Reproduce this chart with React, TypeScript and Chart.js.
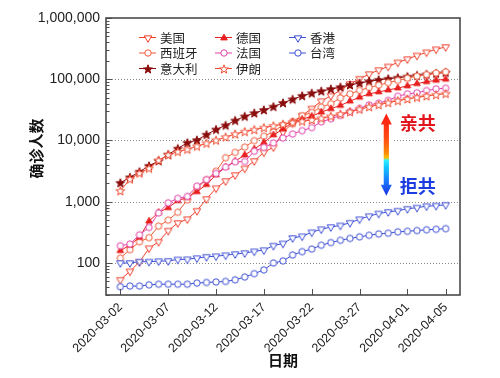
import React, { useEffect, useRef } from "react";
import { Chart, registerables } from "chart.js";

Chart.register(...registerables);

const dates = [
  "2020-03-02", "2020-03-03", "2020-03-04", "2020-03-05", "2020-03-06", "2020-03-07", "2020-03-08",
  "2020-03-09", "2020-03-10", "2020-03-11", "2020-03-12", "2020-03-13", "2020-03-14", "2020-03-15",
  "2020-03-16", "2020-03-17", "2020-03-18", "2020-03-19", "2020-03-20", "2020-03-21", "2020-03-22",
  "2020-03-23", "2020-03-24", "2020-03-25", "2020-03-26", "2020-03-27", "2020-03-28", "2020-03-29",
  "2020-03-30", "2020-03-31", "2020-04-01", "2020-04-02", "2020-04-03", "2020-04-04", "2020-04-05",
];
const xTickIdx = [0, 5, 10, 15, 20, 25, 30, 34];
const yTicks = [100, 1000, 10000, 100000, 1000000];

const us = [53, 73, 104, 174, 222, 337, 451, 519, 711, 1109, 1663, 2179, 2727, 3499, 4632, 6421, 7786, 13680, 19101, 25493, 33276, 43847, 53740, 65778, 83836, 101657, 121465, 140909, 161831, 188172, 213242, 243622, 275367, 308650, 336802];
const spain = [120, 165, 222, 259, 400, 500, 673, 1073, 1695, 2277, 3146, 5232, 6391, 7798, 9942, 11748, 13910, 17963, 20410, 25374, 28768, 35136, 39885, 49515, 57786, 65719, 73235, 80110, 87956, 95923, 104118, 112065, 119199, 126168, 131646];
const italy = [2036, 2502, 3089, 3858, 4636, 5883, 7375, 9172, 10149, 12462, 15113, 17660, 21157, 24747, 27980, 31506, 35713, 41035, 47021, 53578, 59138, 63927, 69176, 74386, 80589, 86498, 92472, 97689, 101739, 105792, 110574, 115242, 119827, 124632, 128948];
const germany = [159, 196, 262, 482, 670, 799, 1040, 1176, 1457, 1908, 2745, 3675, 4585, 5795, 7272, 9257, 12327, 15320, 19848, 22213, 24873, 29056, 32986, 37323, 43938, 50871, 57695, 62095, 66885, 71808, 77872, 84794, 91159, 96092, 100123];
const france = [191, 204, 288, 380, 656, 959, 1136, 1219, 1794, 2293, 2896, 3681, 4496, 4532, 6683, 7715, 9124, 10970, 12758, 14463, 16243, 20123, 22622, 25600, 29551, 33402, 38105, 40708, 45170, 52827, 57749, 59929, 65202, 69500, 71412];
const iran = [1501, 2336, 2922, 3513, 4747, 5823, 6566, 7161, 8042, 9000, 10075, 11364, 12729, 13938, 14991, 16169, 17361, 18407, 19644, 20610, 21638, 23049, 24811, 27017, 29406, 32332, 35408, 38309, 41495, 44605, 47593, 50468, 53183, 55743, 58226];
const hongkong = [100, 100, 105, 105, 107, 108, 114, 115, 120, 126, 129, 134, 140, 145, 155, 162, 192, 208, 256, 273, 317, 356, 386, 410, 453, 518, 582, 641, 682, 714, 765, 802, 845, 862, 890];
const taiwan = [41, 42, 42, 44, 45, 45, 45, 45, 47, 48, 49, 50, 53, 59, 67, 77, 100, 108, 135, 153, 169, 195, 215, 235, 252, 267, 283, 298, 306, 322, 329, 339, 348, 355, 363];

type Marker = "triDown" | "triUp" | "circle" | "star";
interface SeriesDef { name: string; data: number[]; color: string; marker: Marker; filled: boolean; col: number; row: number; }

const series: SeriesDef[] = [
  { name: "香港", data: hongkong, color: "#3d4fd4", marker: "triDown", filled: false, col: 2, row: 0 },
  { name: "台湾", data: taiwan, color: "#3d4fd4", marker: "circle", filled: false, col: 2, row: 1 },
  { name: "伊朗", data: iran, color: "#f04a30", marker: "star", filled: false, col: 1, row: 2 },
  { name: "法国", data: france, color: "#e040a8", marker: "circle", filled: false, col: 1, row: 1 },
  { name: "德国", data: germany, color: "#e82020", marker: "triUp", filled: true, col: 1, row: 0 },
  { name: "西班牙", data: spain, color: "#f05a38", marker: "circle", filled: false, col: 0, row: 1 },
  { name: "意大利", data: italy, color: "#8a0c0c", marker: "star", filled: true, col: 0, row: 2 },
  { name: "美国", data: us, color: "#f0402c", marker: "triDown", filled: false, col: 0, row: 0 },
];

const FONT = "'Liberation Sans', 'Noto Sans CJK SC', sans-serif";
const CJK = "'Noto Sans CJK SC', sans-serif";

function drawMarkerPath(ctx: CanvasRenderingContext2D, m: Marker, c: number) {
  ctx.beginPath();
  if (m === "triDown") {
    const r = 4.3;
    ctx.moveTo(c, c + r);
    ctx.lineTo(c - r * 0.866, c - r / 2);
    ctx.lineTo(c + r * 0.866, c - r / 2);
    ctx.closePath();
  } else if (m === "triUp") {
    const r = 3.8;
    ctx.moveTo(c, c - r);
    ctx.lineTo(c - r * 0.866, c + r / 2);
    ctx.lineTo(c + r * 0.866, c + r / 2);
    ctx.closePath();
  } else if (m === "circle") {
    ctx.arc(c, c, 3.2, 0, Math.PI * 2);
  } else {
    const R = 4.6, r = 1.9;
    for (let i = 0; i < 10; i++) {
      const a = -Math.PI / 2 + (i * Math.PI) / 5;
      const rr = i % 2 === 0 ? R : r;
      const px = c + rr * Math.cos(a), py = c + 0.4 + rr * Math.sin(a);
      if (i === 0) ctx.moveTo(px, py); else ctx.lineTo(px, py);
    }
    ctx.closePath();
  }
}

function makeMarker(m: Marker, color: string, filled: boolean): HTMLCanvasElement {
  const S = 12;
  const cv = document.createElement("canvas");
  cv.width = S; cv.height = S;
  const ctx = cv.getContext("2d")!;
  drawMarkerPath(ctx, m, S / 2);
  ctx.fillStyle = filled ? color : "#ffffff";
  ctx.fill();
  ctx.lineWidth = 1;
  ctx.strokeStyle = color;
  ctx.stroke();
  return cv;
}

export default function App() {
  const ref = useRef<HTMLCanvasElement>(null);
  useEffect(() => {
    if (!ref.current) return;
    const markers = series.map((s) => makeMarker(s.marker, s.color, s.filled));

    const custom = {
      id: "custom",
      beforeDatasetsDraw(chart: any) {
        const { ctx, chartArea: a, scales } = chart;
        const y = scales.y;
        ctx.save();
        ctx.strokeStyle = "#8a8a8a";
        ctx.lineWidth = 1;
        ctx.setLineDash([1, 2]);
        for (const v of yTicks) {
          if (v >= 1000000) continue;
          const py = Math.round(y.getPixelForValue(v)) + 0.5;
          ctx.beginPath();
          ctx.moveTo(a.left, py);
          ctx.lineTo(a.right, py);
          ctx.stroke();
        }
        ctx.restore();
      },
      afterDatasetsDraw(chart: any) {
        const { ctx, chartArea: a, scales } = chart;
        const x = scales.x, y = scales.y;
        ctx.save();
        ctx.strokeStyle = "#505050";
        ctx.lineWidth = 1;
        for (let e = 1; e <= 6; e++) {
          for (let k = 1; k <= 9; k++) {
            const v = k * Math.pow(10, e);
            if (v < y.min || v > y.max) continue;
            const py = Math.round(y.getPixelForValue(v)) + 0.5;
            const len = k === 1 ? 6 : 3.5;
            ctx.beginPath();
            ctx.moveTo(a.left, py);
            ctx.lineTo(a.left + len, py);
            ctx.stroke();
          }
        }
        for (const v of xTickIdx) {
          const px = Math.round(x.getPixelForValue(v)) + 0.5;
          ctx.beginPath();
          ctx.moveTo(px, a.bottom);
          ctx.lineTo(px, a.bottom - 6);
          ctx.stroke();
        }
        ctx.lineWidth = 1.6;
        ctx.strokeStyle = "#4a4a4a";
        ctx.strokeRect(a.left, a.top, a.right - a.left, a.bottom - a.top);
        ctx.restore();
      },
      afterDraw(chart: any) {
        const { ctx, chartArea: a, scales } = chart;
        const x = scales.x, y = scales.y;
        ctx.save();
        // y axis title
        ctx.save();
        ctx.translate(36, (a.top + a.bottom) / 2 - 8);
        ctx.rotate(-Math.PI / 2);
        ctx.font = `bold 15px ${CJK}`;
        ctx.fillStyle = "#111111";
        ctx.textAlign = "center";
        ctx.textBaseline = "middle";
        ctx.fillText("确诊人数", 0, 0);
        ctx.restore();

        // arrow annotation
        const cx = x.getPixelForValue(27.8);
        const yt = y.getPixelForValue(27500);
        const yb = y.getPixelForValue(1250);
        ctx.fillStyle = "#ffffff";
        ctx.fillRect(cx - 7, yt - 1, 14, yb - yt + 2);
        const g = ctx.createLinearGradient(0, yt, 0, yb);
        g.addColorStop(0, "#ff1a14");
        g.addColorStop(0.3, "#ff4a14");
        g.addColorStop(0.48, "#ff8a08");
        g.addColorStop(0.54, "#ffc000");
        g.addColorStop(0.565, "#30f0ff");
        g.addColorStop(0.65, "#10c8ff");
        g.addColorStop(0.82, "#1a78ff");
        g.addColorStop(1, "#1a30e0");
        const hw = 5.5, sw = 2.6, hh = 11;
        ctx.beginPath();
        ctx.moveTo(cx, yt);
        ctx.lineTo(cx + hw, yt + hh);
        ctx.lineTo(cx + sw, yt + hh);
        ctx.lineTo(cx + sw, yb - hh);
        ctx.lineTo(cx + hw, yb - hh);
        ctx.lineTo(cx, yb);
        ctx.lineTo(cx - hw, yb - hh);
        ctx.lineTo(cx - sw, yb - hh);
        ctx.lineTo(cx - sw, yt + hh);
        ctx.lineTo(cx - hw, yt + hh);
        ctx.closePath();
        ctx.fillStyle = g;
        ctx.fill();

        ctx.font = `bold 18px ${CJK}`;
        ctx.textAlign = "left";
        ctx.textBaseline = "middle";
        ctx.fillStyle = "#e3141c";
        ctx.fillText("亲共", x.getPixelForValue(29.2), y.getPixelForValue(19000));
        ctx.fillStyle = "#1a3ce0";
        ctx.fillText("拒共", x.getPixelForValue(29.2), y.getPixelForValue(1830));

        // legend
        const colX = [a.left + 33, a.left + 109, a.left + 183];
        const rowY = [a.top + 19, a.top + 34.5, a.top + 50];
        ctx.font = `12.5px ${CJK}`;
        series.forEach((s, i) => {
          const x0 = colX[s.col];
          const ly = rowY[s.row];
          ctx.strokeStyle = s.color;
          ctx.lineWidth = 1;
          ctx.beginPath();
          ctx.moveTo(x0, ly + 0.5);
          ctx.lineTo(x0 + 17, ly + 0.5);
          ctx.stroke();
          const mk = markers[i];
          ctx.drawImage(mk, Math.round(x0 + 8.5 - mk.width / 2), Math.round(ly + 0.5 - mk.height / 2));
          ctx.fillStyle = "#222222";
          ctx.fillText(s.name, x0 + 21, ly + 1);
        });
        ctx.restore();
      },
    };

    const chart = new Chart(ref.current, {
      type: "line",
      data: {
        datasets: series.map((s, i) => ({
          label: s.name,
          data: s.data.map((v, k) => ({ x: k, y: v })),
          borderColor: s.color,
          borderWidth: 1,
          pointStyle: markers[i],
          pointRadius: 4,
          fill: false,
          tension: 0,
        })),
      },
      options: {
        animation: false,
        responsive: false,
        maintainAspectRatio: false,
        layout: { padding: { top: 18, right: 40, left: 0, bottom: 0 } },
        plugins: { legend: { display: false }, tooltip: { enabled: false } },
        scales: {
          x: {
            type: "linear",
            min: -1.5,
            max: 35.5,
            afterBuildTicks: (s: any) => { s.ticks = xTickIdx.map((v) => ({ value: v })); },
            afterFit: (s: any) => { s.height = 83; },
            grid: { display: false, drawTicks: false },
            border: { display: false },
            ticks: {
              autoSkip: false,
              minRotation: 45,
              maxRotation: 45,
              padding: 5,
              color: "#222222",
              font: { family: FONT, size: 12.5 },
              callback: (v: any) => dates[v] ?? "",
            },
            title: {
              display: true,
              text: "日期",
              color: "#111111",
              font: { family: CJK, size: 15, weight: "bold" },
              padding: { top: 0, bottom: 9 },
            },
          },
          y: {
            type: "logarithmic",
            min: 30,
            max: 1000000,
            afterBuildTicks: (s: any) => { s.ticks = yTicks.map((v) => ({ value: v, major: true })); },
            afterFit: (s: any) => { s.width = 106; },
            grid: { display: false, drawTicks: false },
            border: { display: false },
            ticks: {
              padding: 6,
              color: "#222222",
              font: { family: FONT, size: 14 },
              callback: (v: any) => Number(v).toLocaleString("en-US"),
            },
            title: { display: false },
          },
        },
      },
      plugins: [custom],
    } as any);
    return () => chart.destroy();
  }, []);

  return (
    <div style={{ position: "absolute", left: 0, top: 0, width: 500, height: 378, background: "#ffffff" }}>
      <canvas ref={ref} width={500} height={378} />
    </div>
  );
}
